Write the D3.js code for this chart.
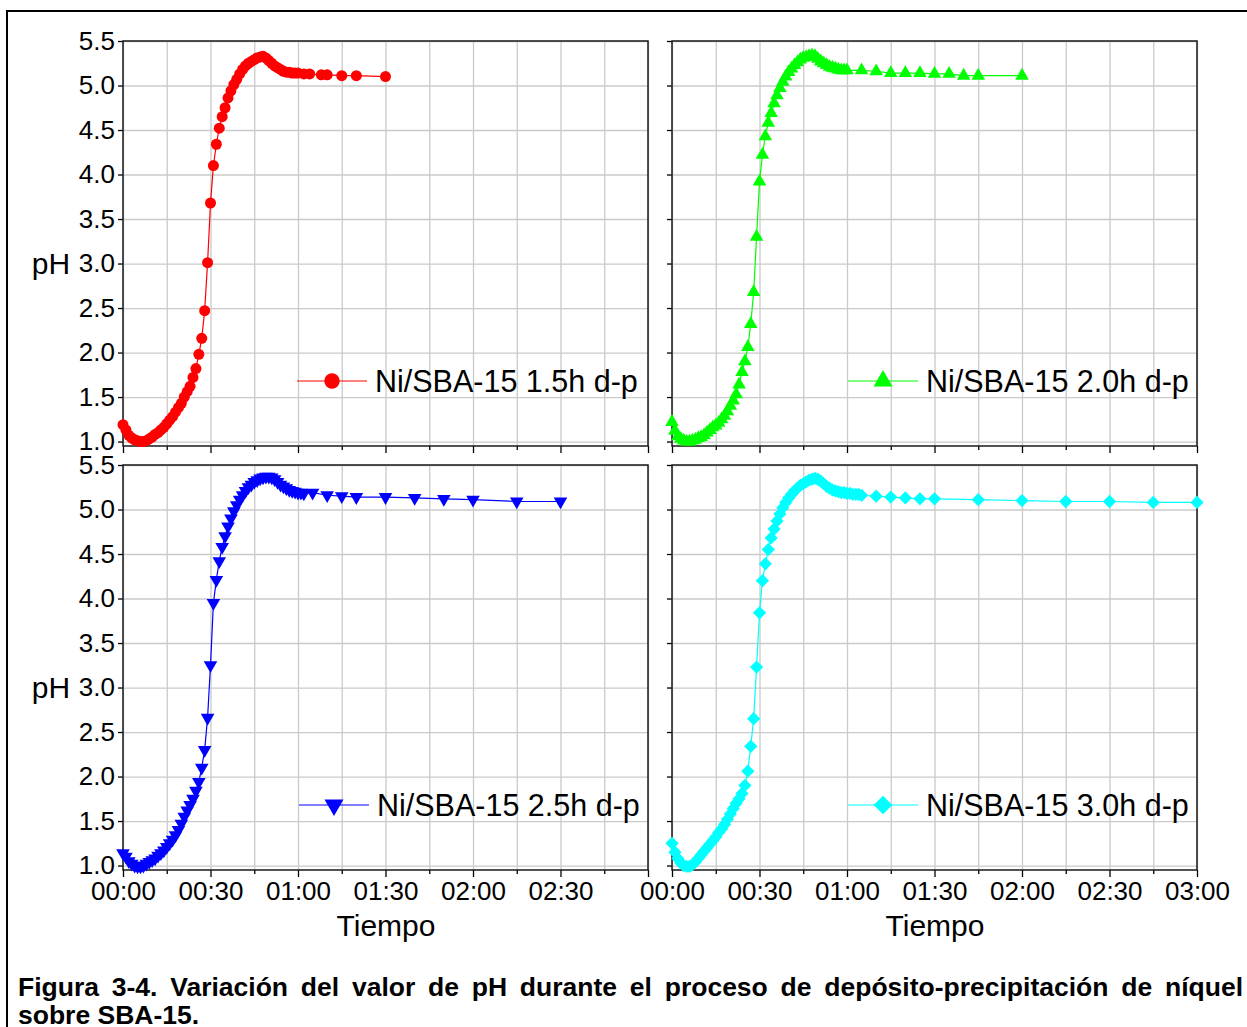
<!DOCTYPE html>
<html>
<head>
<meta charset="utf-8">
<script src="https://cdn.jsdelivr.net/npm/d3@7/dist/d3.min.js"></script>
<style>
  body { margin: 0; background: #fff; }
  text { font-family: "Liberation Sans", Arial, sans-serif; fill: #000; }
</style>
</head>
<body>
<svg width="1247" height="1027"></svg>
<script>
// times in minutes, pH

// Ni/SBA-15 1.5h d-p
const t15 = [0,1,2,3,4,5,6,7,8,9,10,11,12,13,14,15,16,17,18,19,20,21,22,23,24,25,26,27,28,29,
  30,31,32,33,34,35,36,37,38,39,40,41,42,43,44,45,46,47,48,49,50,51,52,53,54,55,56,57,58,59,
  60,62,64,68,70,75,80,90];
const ph15 = [1.19,1.13,1.07,1.04,1.02,1.01,1.00,1.00,1.01,1.03,
  1.05,1.08,1.10,1.13,1.16,1.20,1.24,1.28,1.33,1.38,
  1.43,1.50,1.56,1.62,1.72,1.82,1.98,2.16,2.47,3.01,
  3.68,4.10,4.34,4.52,4.65,4.75,4.86,4.94,5.01,5.07,
  5.13,5.18,5.22,5.25,5.27,5.29,5.31,5.32,5.33,5.31,
  5.28,5.25,5.22,5.20,5.18,5.16,5.15,5.15,5.14,5.14,
  5.14,5.13,5.13,5.12,5.12,5.11,5.11,5.10];

// Ni/SBA-15 2.0h d-p
const t20 = [0,1,2,3,4,5,6,7,8,9,10,11,12,13,14,15,16,17,18,19,20,21,22,23,24,25,26,27,28,29,
  30,31,32,33,34,35,36,37,38,39,40,41,42,43,44,45,46,47,48,49,50,51,52,53,54,55,56,57,58,59,
  60,65,70,75,80,85,90,95,100,105,120];
const ph20 = [1.22,1.12,1.06,1.03,1.01,1.00,1.00,1.01,1.02,1.04,
  1.05,1.07,1.10,1.13,1.16,1.18,1.21,1.25,1.29,1.34,
  1.40,1.46,1.53,1.64,1.78,1.90,2.06,2.32,2.68,3.30,
  3.92,4.22,4.43,4.58,4.69,4.80,4.89,4.97,5.04,5.10,
  5.15,5.19,5.23,5.26,5.29,5.31,5.32,5.33,5.34,5.33,
  5.30,5.27,5.25,5.23,5.21,5.20,5.19,5.18,5.17,5.17,
  5.17,5.17,5.16,5.14,5.14,5.14,5.13,5.13,5.11,5.11,5.11];

// Ni/SBA-15 2.5h d-p
const t25 = [0,1,2,3,4,5,6,7,8,9,10,11,12,13,14,15,16,17,18,19,20,21,22,23,24,25,26,27,28,29,
  30,31,32,33,34,35,36,37,38,39,40,41,42,43,44,45,46,47,48,49,50,51,52,53,54,55,56,57,58,59,
  60,61,62,65,70,75,80,90,100,110,120,135,150];
const ph25 = [1.14,1.10,1.05,1.02,1.00,0.99,0.99,1.00,1.02,1.04,
  1.06,1.08,1.11,1.14,1.17,1.21,1.25,1.29,1.34,1.40,
  1.47,1.55,1.62,1.68,1.75,1.84,1.94,2.10,2.30,2.66,
  3.25,3.95,4.21,4.42,4.58,4.70,4.81,4.90,4.98,5.05,
  5.11,5.16,5.21,5.25,5.28,5.31,5.33,5.35,5.36,5.37,
  5.37,5.36,5.34,5.31,5.28,5.26,5.24,5.22,5.21,5.20,
  5.19,5.19,5.18,5.19,5.16,5.15,5.14,5.14,5.13,5.12,5.11,5.09,5.09];

// Ni/SBA-15 3.0h d-p
const t30 = [0,1,2,3,4,5,6,7,8,9,10,11,12,13,14,15,16,17,18,19,20,21,22,23,24,25,26,27,28,29,
  30,31,32,33,34,35,36,37,38,39,40,41,42,43,44,45,46,47,48,49,50,51,52,53,54,55,56,57,58,59,
  60,61,62,63,64,65,70,75,80,85,90,105,120,135,150,165,180];
const ph30 = [1.25,1.15,1.08,1.03,1.00,0.99,0.99,1.01,1.04,1.08,
  1.12,1.16,1.20,1.24,1.28,1.32,1.37,1.41,1.46,1.52,
  1.58,1.64,1.70,1.75,1.81,1.90,2.06,2.34,2.65,3.23,
  3.84,4.20,4.39,4.55,4.68,4.78,4.87,4.95,5.02,5.08,
  5.13,5.17,5.21,5.24,5.27,5.29,5.31,5.33,5.34,5.35,
  5.34,5.32,5.29,5.26,5.24,5.22,5.21,5.20,5.19,5.19,
  5.18,5.18,5.17,5.17,5.17,5.16,5.15,5.14,5.13,5.12,5.12,5.11,5.10,5.09,5.09,5.08,5.08];

const yTicks = [1.0,1.5,2.0,2.5,3.0,3.5,4.0,4.5,5.0,5.5];
const xGrid = [0,15,30,45,60,75,90,105,120,135,150,165,180];
const xTicks = [0,30,60,90,120,150,180];
const xTickLabels = ["00:00","00:30","01:00","01:30","02:00","02:30","03:00"];
const captionLines = [
  "Figura 3-4. Variación del valor de pH durante el proceso de depósito-precipitación de níquel",
  "sobre SBA-15."
];

const svg = d3.select("svg");
const W = 525, H = 405;

const panels = [
  {x0: 123, y0: 41,  t: t15, ph: ph15, color: "#ff0000", shape: "circle", label: "Ni/SBA-15 1.5h d-p", yLabels: true,  xLabels: null, leg: 174},
  {x0: 672, y0: 41,  t: t20, ph: ph20, color: "#00ff00", shape: "up",     label: "Ni/SBA-15 2.0h d-p", yLabels: false, xLabels: null, leg: 176},
  {x0: 123, y0: 465, t: t25, ph: ph25, color: "#0000ff", shape: "down",   label: "Ni/SBA-15 2.5h d-p", yLabels: true,  xLabels: 6, leg: 176},
  {x0: 672, y0: 465, t: t30, ph: ph30, color: "#00ffff", shape: "diamond",label: "Ni/SBA-15 3.0h d-p", yLabels: false, xLabels: 7, leg: 176}
];

function marker(sel, shape, k) {
  if (shape === "circle") {
    sel.append("circle").attr("r", 5.5 * k);
  } else if (shape === "up") {
    sel.append("path").attr("d", d3.symbol(d3.symbolTriangle, 80 * k * k)());
  } else if (shape === "down") {
    sel.append("path").attr("d", d3.symbol(d3.symbolTriangle, 80 * k * k)()).attr("transform", "rotate(180)");
  } else {
    sel.append("path").attr("d", d3.symbol(d3.symbolSquare, 88 * k * k)()).attr("transform", "rotate(45)");
  }
}

panels.forEach(p => {
  const x = d3.scaleLinear().domain([0, 180]).range([p.x0, p.x0 + W]);
  const y = d3.scaleLinear().domain([0.95, 5.5]).range([p.y0 + H, p.y0]);
  const g = svg.append("g");

  // grid
  g.append("g")
    .attr("transform", `translate(0,${p.y0 + H})`)
    .call(d3.axisBottom(x).tickValues(xGrid).tickSize(-H).tickFormat(""))
    .call(s => s.select(".domain").remove())
    .selectAll("line").attr("stroke", "#cacaca").attr("stroke-width", 1.3);
  g.append("g")
    .attr("transform", `translate(${p.x0},0)`)
    .call(d3.axisLeft(y).tickValues(yTicks).tickSize(-W).tickFormat(""))
    .call(s => s.select(".domain").remove())
    .selectAll("line").attr("stroke", "#cacaca").attr("stroke-width", 1.3);

  // x ticks: minor every 15, major every 30
  g.append("g")
    .attr("transform", `translate(0,${p.y0 + H})`)
    .call(d3.axisBottom(x).tickValues(xGrid.filter(v => v % 30)).tickSize(4).tickFormat(""))
    .call(s => s.select(".domain").remove())
    .selectAll("line").attr("stroke", "#000").attr("stroke-width", 1.3);
  const xa = g.append("g")
    .attr("transform", `translate(0,${p.y0 + H})`)
    .call(d3.axisBottom(x).tickValues(xTicks).tickSize(7).tickPadding(5)
      .tickFormat((d, i) => (p.xLabels && i < p.xLabels) ? xTickLabels[i] : ""));
  xa.select(".domain").remove();
  xa.selectAll("line").attr("stroke", "#000").attr("stroke-width", 1.3);
  xa.selectAll("text").attr("font-size", 26).attr("font-family", "Liberation Sans, Arial, sans-serif").attr("fill", "#000");

  // y ticks
  const ya = g.append("g")
    .attr("transform", `translate(${p.x0},0)`)
    .call(d3.axisLeft(y).tickValues(yTicks).tickSize(5).tickPadding(3)
      .tickFormat(p.yLabels ? d3.format(".1f") : ""));
  ya.select(".domain").remove();
  ya.selectAll("line").attr("stroke", "#000").attr("stroke-width", 1.3);
  ya.selectAll("text").attr("font-size", 26).attr("font-family", "Liberation Sans, Arial, sans-serif").attr("fill", "#000");

  // frame
  g.append("rect")
    .attr("x", p.x0).attr("y", p.y0).attr("width", W).attr("height", H)
    .attr("fill", "none").attr("stroke", "#1a1a1a").attr("stroke-width", 1.5);

  // series
  const pts = p.t.map((d, i) => [d, p.ph[i]]);
  g.append("path")
    .attr("d", d3.line().x(d => x(d[0])).y(d => y(d[1]))(pts))
    .attr("fill", "none").attr("stroke", p.color).attr("stroke-width", 1.2);
  g.append("g").attr("fill", p.color)
    .selectAll("g").data(pts).join("g")
    .attr("transform", d => `translate(${x(d[0])},${y(d[1])})`)
    .each(function() { marker(d3.select(this), p.shape, 1); });

  // legend
  const ly = p.y0 + 340;
  const lx = p.x0 + p.leg;
  g.append("line").attr("x1", lx).attr("x2", lx + 70).attr("y1", ly).attr("y2", ly)
    .attr("stroke", p.color).attr("stroke-width", 1.2);
  const lm = g.append("g").attr("fill", p.color).attr("transform", `translate(${lx + 35},${ly})`);
  marker(lm, p.shape, 1.4);
  g.append("text").attr("x", lx + 78).attr("y", ly + 11)
    .attr("font-size", 30.5).text(p.label);

  // axis titles
  if (p.yLabels) {
    g.append("text").attr("x", 51).attr("y", y(3.0) + 10.5).attr("text-anchor", "middle")
      .attr("font-size", 30).text("pH");
  }
  if (p.xLabels) {
    g.append("text").attr("x", p.x0 + 263).attr("y", p.y0 + H + 66).attr("text-anchor", "middle")
      .attr("font-size", 30).text("Tiempo");
  }
});

// outer frame
svg.append("rect").attr("x", 7).attr("y", 11).attr("width", 1260).attr("height", 1040)
  .attr("fill", "none").attr("stroke", "#000").attr("stroke-width", 2);

// caption, first line justified
const capLeft = 18, capRight = 1243;
const words = captionLines[0].split(" ");
const wordEls = words.map(w => svg.append("text").attr("y", 996)
  .attr("font-size", 26.5).attr("font-weight", "bold").text(w));
const widths = wordEls.map(e => e.node().getComputedTextLength());
const gap = (capRight - capLeft - d3.sum(widths)) / (words.length - 1);
let cx = capLeft;
wordEls.forEach((e, i) => { e.attr("x", cx); cx += widths[i] + gap; });
svg.append("text").attr("x", capLeft).attr("y", 1024)
  .attr("font-size", 26.5).attr("font-weight", "bold").text(captionLines[1]);
</script>
</body>
</html>
